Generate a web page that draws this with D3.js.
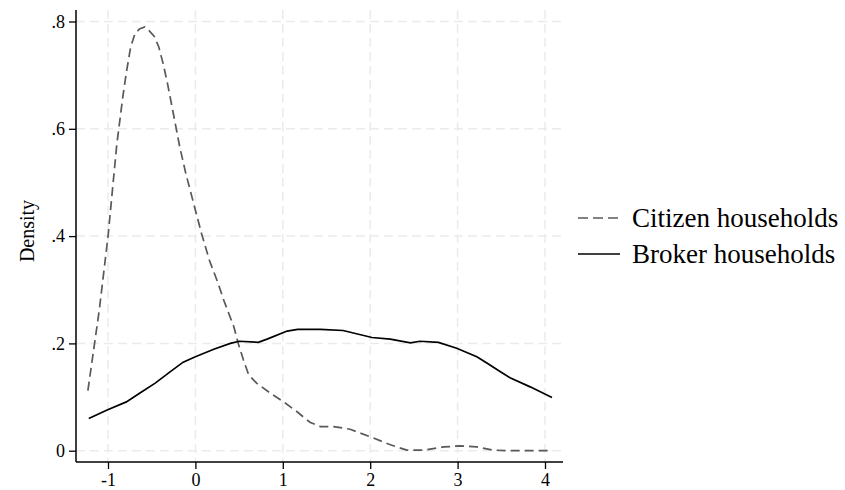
<!DOCTYPE html>
<html>
<head>
<meta charset="utf-8">
<script src="https://cdn.jsdelivr.net/npm/d3@7/dist/d3.min.js"></script>
<style>
  html, body { margin: 0; padding: 0; background: #fff; }
  svg { display: block; }
  text { font-family: "Liberation Serif", "Times New Roman", serif; fill: #000; }
</style>
</head>
<body>
<svg id="chart" width="845" height="490"></svg>
<script>
// ---- data ----
const xTicks = [-1, 0, 1, 2, 3, 4];
const xTickLabels = ["-1", "0", "1", "2", "3", "4"];
const yTicks = [0, 0.2, 0.4, 0.6, 0.8];
const yTickLabels = ["0", ".2", ".4", ".6", ".8"];
const yTitle = "Density";
const seriesNames = ["Citizen households", "Broker households"];

const citizenX = [-1.23,-1.10,-1.00,-0.90,-0.83,-0.79,-0.74,-0.69,-0.64,-0.58,-0.53,-0.47,-0.42,-0.37,-0.32,-0.26,-0.18,-0.11,-0.03,0.07,0.16,0.26,0.33,0.44,0.49,0.55,0.61,0.70,0.86,1.01,1.16,1.31,1.43,1.58,1.77,2.00,2.23,2.42,2.61,2.84,3.03,3.22,3.41,3.60,3.80,4.08];
const citizenY = [0.112,0.262,0.399,0.570,0.660,0.705,0.753,0.778,0.786,0.790,0.783,0.772,0.753,0.722,0.685,0.635,0.567,0.517,0.467,0.405,0.355,0.312,0.278,0.231,0.200,0.169,0.141,0.126,0.107,0.091,0.073,0.053,0.045,0.045,0.040,0.026,0.011,0.001,0.001,0.007,0.009,0.007,0.001,0,0,0];

const brokerX = [-1.22,-1.01,-0.79,-0.63,-0.46,-0.29,-0.14,0.00,0.21,0.40,0.50,0.72,0.82,1.05,1.17,1.43,1.69,2.02,2.23,2.46,2.57,2.78,2.99,3.22,3.33,3.49,3.60,3.83,4.08];
const brokerY = [0.060,0.076,0.091,0.108,0.126,0.147,0.165,0.175,0.189,0.200,0.204,0.202,0.208,0.223,0.226,0.226,0.224,0.211,0.208,0.201,0.204,0.202,0.191,0.175,0.164,0.147,0.136,0.119,0.099];

// ---- layout ----
const svg = d3.select("#chart");
const plotLeft = 76, plotRight = 563, plotTop = 10, plotBottom = 462;

const x = d3.scaleLinear().domain([-1, 4]).range([108, 545]);
const y = d3.scaleLinear().domain([0, 0.8]).range([450.7, 21.5]);

// grid
const grid = svg.append("g");
grid.selectAll("line.vg").data(xTicks).enter().append("line")
  .attr("x1", d => x(d)).attr("x2", d => x(d))
  .attr("y1", plotTop).attr("y2", plotBottom)
  .attr("stroke", "#ebebeb").attr("stroke-width", 1.5).attr("stroke-dasharray", "9,5");
grid.selectAll("line.hg").data(yTicks).enter().append("line")
  .attr("x1", plotLeft).attr("x2", plotRight)
  .attr("y1", d => y(d)).attr("y2", d => y(d))
  .attr("stroke", "#ebebeb").attr("stroke-width", 1.5).attr("stroke-dasharray", "9,5");

// series
const line = d3.line().x(d => x(d[0])).y(d => y(d[1])).curve(d3.curveLinear);
const citizen = citizenX.map((v, i) => [v, citizenY[i]]);
const broker = brokerX.map((v, i) => [v, brokerY[i]]);

svg.append("path").datum(citizen).attr("d", line)
  .attr("fill", "none").attr("stroke", "#595959").attr("stroke-width", 1.7)
  .attr("stroke-dasharray", "9,5");
svg.append("path").datum(broker).attr("d", line)
  .attr("fill", "none").attr("stroke", "#000").attr("stroke-width", 1.7);

// axes
const xAxis = d3.axisBottom(x).tickValues(xTicks).tickFormat((d, i) => xTickLabels[i]).tickSize(7).tickSizeOuter(0);
const gx = svg.append("g").attr("transform", `translate(0,${plotBottom})`).call(xAxis);
gx.select(".domain").remove();
gx.append("line").attr("x1", plotLeft).attr("x2", plotRight).attr("y1", 0).attr("y2", 0)
  .attr("stroke", "#000").attr("stroke-width", 1.5);
gx.selectAll(".tick line").attr("stroke", "#000").attr("stroke-width", 1.3);
gx.selectAll(".tick text").attr("font-size", 18).attr("font-family", "Liberation Serif, serif")
  .attr("fill", "#000").attr("dy", null).attr("y", 24);

const yAxis = d3.axisLeft(y).tickValues(yTicks).tickFormat((d, i) => yTickLabels[i]).tickSize(7).tickSizeOuter(0);
const gy = svg.append("g").attr("transform", `translate(${plotLeft},0)`).call(yAxis);
gy.select(".domain").remove();
gy.append("line").attr("x1", 0).attr("x2", 0).attr("y1", plotTop).attr("y2", plotBottom)
  .attr("stroke", "#000").attr("stroke-width", 1.5);
gy.selectAll(".tick line").attr("stroke", "#000").attr("stroke-width", 1.3);
gy.selectAll(".tick text").attr("font-size", 18).attr("font-family", "Liberation Serif, serif")
  .attr("fill", "#000").attr("x", -11);

// y title
svg.append("text").attr("transform", `translate(34,231) rotate(-90)`)
  .attr("text-anchor", "middle").attr("font-size", 20).text(yTitle);

// legend
const legend = svg.append("g");
const legY = [218, 254];
legend.append("line").attr("x1", 578).attr("x2", 620).attr("y1", legY[0]).attr("y2", legY[0])
  .attr("stroke", "#595959").attr("stroke-width", 1.7).attr("stroke-dasharray", "10,5");
legend.append("line").attr("x1", 578).attr("x2", 620).attr("y1", legY[1]).attr("y2", legY[1])
  .attr("stroke", "#000").attr("stroke-width", 1.7);
legend.selectAll("text").data(seriesNames).enter().append("text")
  .attr("x", 632).attr("y", (d, i) => legY[i]).attr("dy", "0.35em")
  .attr("font-size", 27).text(d => d);
</script>
</body>
</html>
